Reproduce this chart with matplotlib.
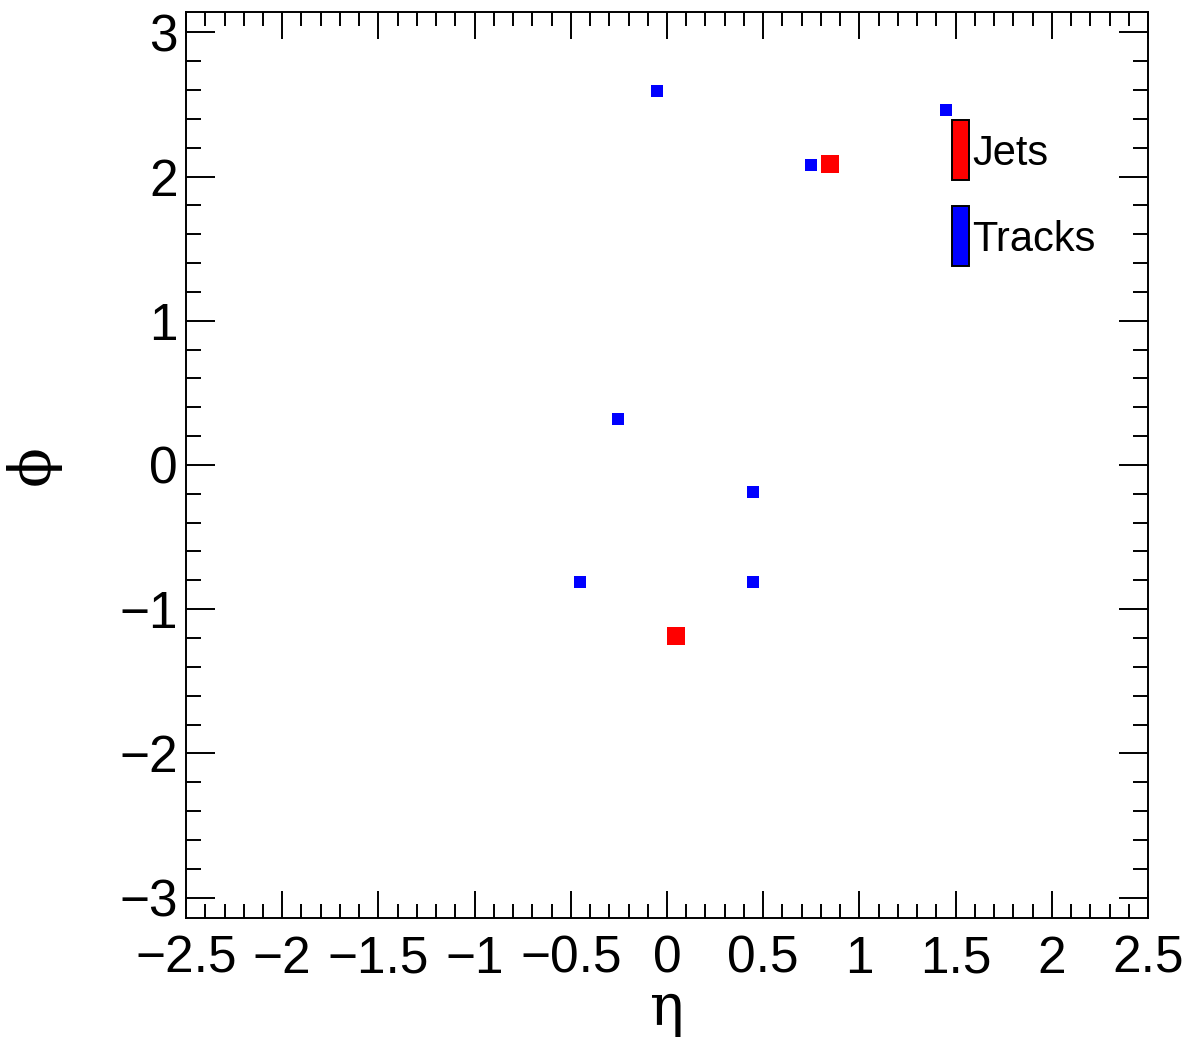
import numpy as np
import matplotlib.pyplot as plt
from matplotlib.patches import Rectangle
from matplotlib.ticker import MultipleLocator

plt.rcParams['font.family'] = ['Liberation Sans', 'DejaVu Sans']

# track positions (eta, phi)
track_eta = [-0.052, 0.748, 1.450, -0.255, 0.447, -0.452, 0.447]
track_phi = [2.594, 2.080, 2.461, 0.319, -0.187, -0.811, -0.811]

# jet positions (eta, phi)
jet_eta = [0.847, 0.047]
jet_phi = [2.087, -1.186]

legend_labels = ["Jets", "Tracks"]
legend_colors = ["#ff0000", "#0000ff"]


fig = plt.figure(figsize=(11.91, 10.41), dpi=100)
ax = fig.add_axes([0.1562, 0.1182, 0.8077, 0.8703])

ax.scatter(track_eta, track_phi, marker='s', s=64, color='#0000ff', linewidths=0)
ax.scatter(jet_eta, jet_phi, marker='s', s=165, color='#ff0000', linewidths=0)

ax.set_xlim(-2.5, 2.5)
ax.set_ylim(-np.pi, np.pi)

# ROOT style ticks
ax.xaxis.set_major_locator(MultipleLocator(0.5))
ax.xaxis.set_minor_locator(MultipleLocator(0.1))
ax.yaxis.set_major_locator(MultipleLocator(1))
ax.yaxis.set_minor_locator(MultipleLocator(0.2))
ax.tick_params(which='both', direction='in', top=True, right=True, width=1.4, colors='black')
ax.tick_params(axis='x', which='major', length=19.5, labelsize=37, pad=12)
ax.tick_params(axis='x', which='minor', length=10)
ax.tick_params(axis='y', which='major', length=21, labelsize=37, pad=6)
ax.tick_params(axis='y', which='minor', length=11)
ax.set_xticks([-2.5, -2, -1.5, -1, -0.5, 0, 0.5, 1, 1.5, 2, 2.5])
ax.set_xticklabels(['\u22122.5', '\u22122', '\u22121.5', '\u22121', '\u22120.5', '0',
                    '0.5', '1', '1.5', '2', '2.5'])
ax.set_yticks([-3, -2, -1, 0, 1, 2, 3])
ax.set_yticklabels(['\u22123', '\u22122', '\u22121', '0', '1', '2', '3'])
for sp in ax.spines.values():
    sp.set_linewidth(1.4)

ax.set_xlabel('\u03b7', fontsize=41, family='DejaVu Serif', labelpad=-2)
ax.set_ylabel('\u03d5', fontsize=42, family='DejaVu Serif', labelpad=42)

# legend boxes
box_y = [0.815, 0.720]
text_y = [0.843, 0.748]
for lab, col, by, ty in zip(legend_labels, legend_colors, box_y, text_y):
    ax.add_patch(Rectangle((0.796, by), 0.0177, 0.066, transform=ax.transAxes,
                           facecolor=col, edgecolor='black', linewidth=1.4, clip_on=False))
    ax.text(0.817, ty, lab, transform=ax.transAxes, fontsize=30, va='center', ha='left')

fig.savefig("out.png", dpi=100)
